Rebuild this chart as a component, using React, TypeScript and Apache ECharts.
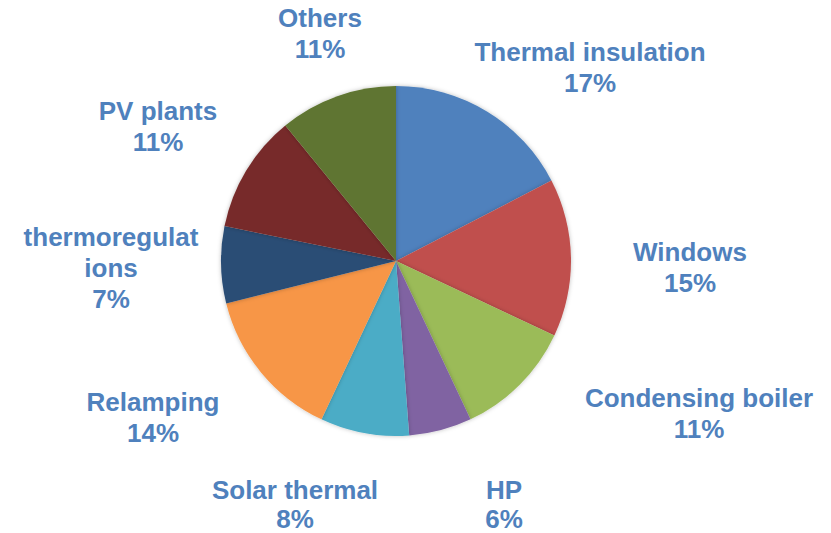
import React, { useEffect, useRef } from "react";
import * as echarts from "echarts";

const categories = [
  "Thermal insulation",
  "Windows",
  "Condensing boiler",
  "HP",
  "Solar thermal",
  "Relamping",
  "thermoregulations",
  "PV plants",
  "Others",
];
const values = [17.4, 14.6, 11.0, 5.8, 8.2, 14.1, 7.1, 10.9, 10.9];

const colors = [
  "#4F81BD",
  "#C0504D",
  "#9BBB59",
  "#8064A2",
  "#4BACC6",
  "#F79646",
  "#2C4D75",
  "#772C2A",
  "#5F7530",
];

// label block centres (layout only)
const labelCenters: [number, number][] = [
  [590, 67],
  [690, 267],
  [699, 413],
  [504, 504],
  [295, 504],
  [153, 417],
  [111, 268],
  [158, 126],
  [320, 33],
];

export default function App() {
  const ref = useRef<HTMLDivElement>(null);
  useEffect(() => {
    if (!ref.current) return;
    const chart = echarts.init(ref.current, undefined, { renderer: "svg" });
    chart.setOption({
      animation: false,
      backgroundColor: "#ffffff",
      color: colors,
      series: [
        {
          type: "pie",
          center: [396, 261],
          radius: 175,
          startAngle: 90,
          clockwise: true,
          percentPrecision: 0,
          data: categories.map((name, i) => ({
            name,
            value: values[i],
            label:
              name === "thermoregulations"
                ? { width: 180, overflow: "break" }
                : name === "HP" || name === "Solar thermal"
                ? { lineHeight: 29 }
                : undefined,
          })),
          itemStyle: {
            borderWidth: 0,
            shadowBlur: 4,
            shadowColor: "rgba(0,0,0,0.25)",
          },
          label: {
            show: true,
            position: "outside",
            formatter: "{b}\n{d}%",
            color: "#4F81BD",
            fontFamily: "Liberation Sans, Arial, sans-serif",
            fontWeight: "bold",
            fontSize: 26,
            lineHeight: 31,
            align: "center",
          },
          labelLine: { show: false },
          labelLayout: (params: any) => {
            const c = labelCenters[params.dataIndex];
            return {
              x: c[0],
              y: c[1],
              align: "center",
              verticalAlign: "middle",
            };
          },
        },
      ],
    });
    return () => chart.dispose();
  }, []);
  return (
    <div
      ref={ref}
      style={{ position: "fixed", left: 0, top: 0, width: 831, height: 533 }}
    />
  );
}
